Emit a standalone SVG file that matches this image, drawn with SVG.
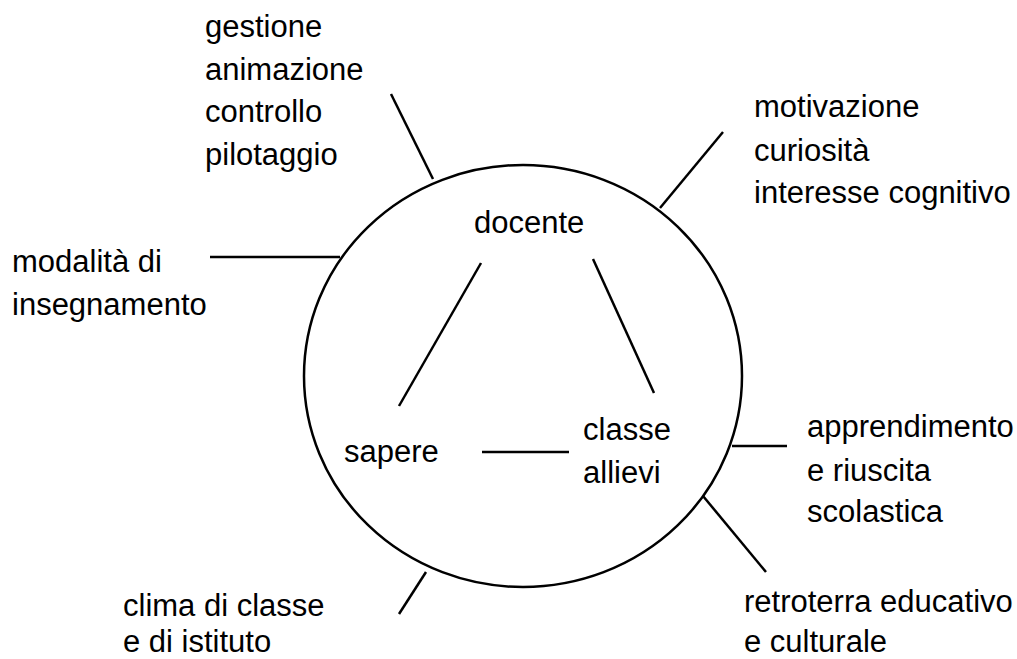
<svg xmlns="http://www.w3.org/2000/svg" width="1017" height="659" viewBox="0 0 1017 659">
<style>
text{font-family:"Liberation Sans",Arial,sans-serif;font-size:31px;fill:#000}
.l{stroke:#000;stroke-width:2.5;fill:none;stroke-linecap:butt}
</style>
<rect width="1017" height="659" fill="#fff"/>
<g id="circle"><ellipse cx="523" cy="376" rx="219" ry="211" class="l" stroke-width="2.8"/></g>
<g id="connectors">
<line class="l" x1="391" y1="94" x2="433" y2="179"/>
<line class="l" x1="210" y1="257" x2="340" y2="257"/>
<line class="l" x1="723" y1="132" x2="660" y2="208"/>
<line class="l" x1="481" y1="263" x2="399" y2="406"/>
<line class="l" x1="593" y1="259" x2="654" y2="393"/>
<line class="l" x1="482" y1="452" x2="569" y2="452"/>
<line class="l" x1="732" y1="446" x2="787" y2="446"/>
<line class="l" x1="703" y1="496" x2="766" y2="572"/>
<line class="l" x1="426" y1="572" x2="399" y2="614"/>
</g>
<g id="gestione"><text x="205" y="37">gestione</text><text x="205" y="80">animazione</text><text x="205" y="122">controllo</text><text x="205" y="165">pilotaggio</text></g>
<g id="modalita"><text x="12" y="272">modalità di</text><text x="12" y="315">insegnamento</text></g>
<g id="motivazione"><text x="754" y="117">motivazione</text><text x="754" y="161">curiosità</text><text x="754" y="203">interesse cognitivo</text></g>
<g id="docente"><text x="474" y="233">docente</text></g>
<g id="sapere"><text x="344" y="462">sapere</text></g>
<g id="classe"><text x="583" y="440">classe</text><text x="583" y="483">allievi</text></g>
<g id="apprendimento"><text x="807" y="437">apprendimento</text><text x="807" y="481">e riuscita</text><text x="807" y="522">scolastica</text></g>
<g id="retroterra"><text x="744" y="612">retroterra educativo</text><text x="744" y="652">e culturale</text></g>
<g id="clima"><text x="123" y="616">clima di classe</text><text x="123" y="652">e di istituto</text></g>
</svg>
